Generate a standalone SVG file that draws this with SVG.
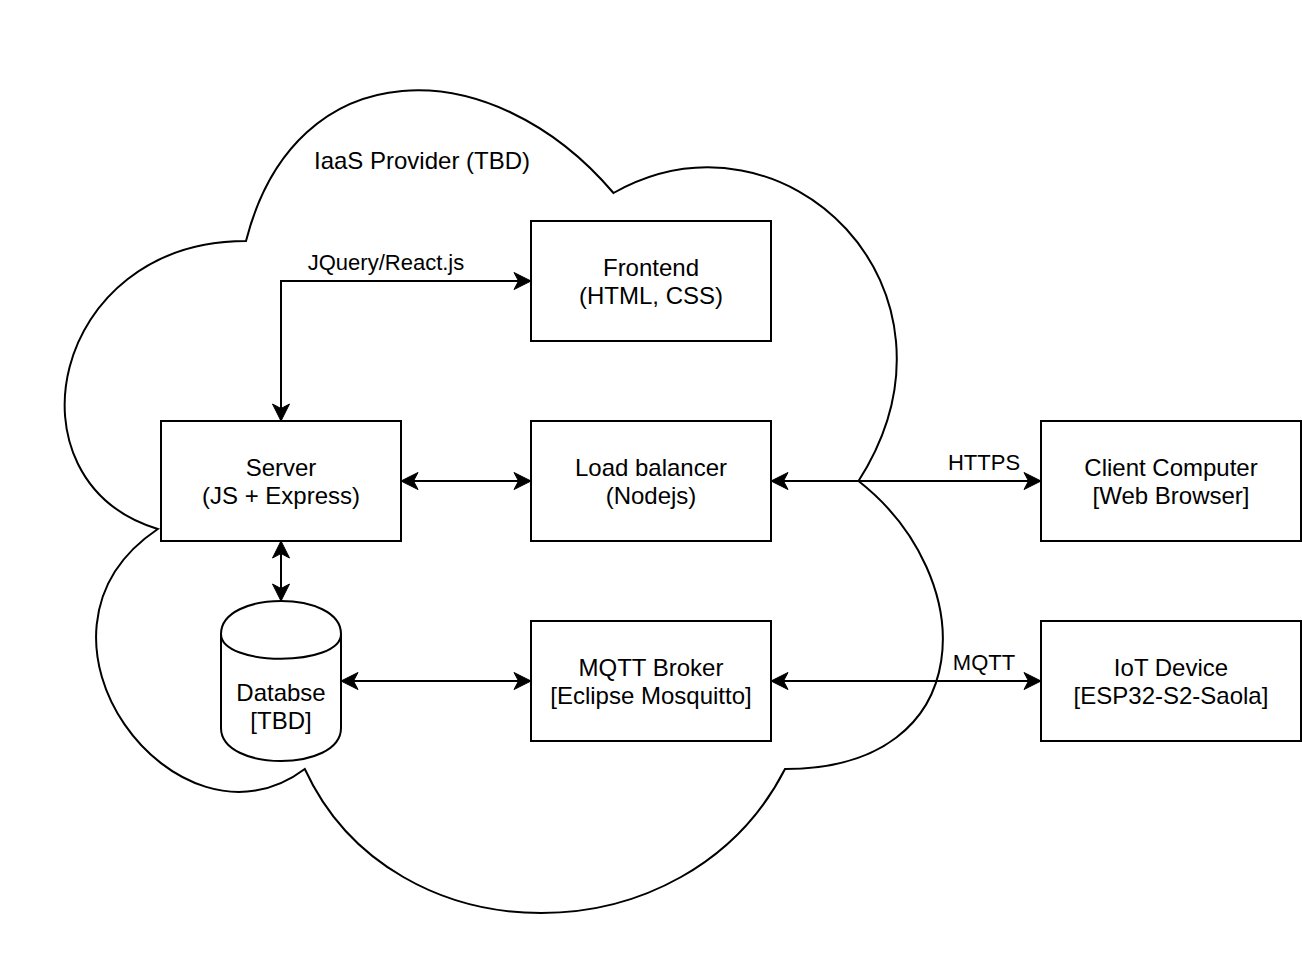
<svg xmlns="http://www.w3.org/2000/svg" width="1302" height="962" viewBox="0 0 1302 962">
  <style>
    .box { fill: #ffffff; stroke: #000000; stroke-width: 2; }
    .cloud { fill: #ffffff; stroke: #000000; stroke-width: 2; }
    .t { font-family: "Liberation Sans", Arial, Helvetica, sans-serif; font-size: 24px; fill: #000000; text-anchor: middle; }
    .lbl { font-family: "Liberation Sans", Arial, Helvetica, sans-serif; font-size: 22px; fill: #000000; text-anchor: middle; }
    .edge { fill: none; stroke: #000000; stroke-width: 2; }
  </style>
  <defs>
    <marker id="arrow" viewBox="-18 -10 20 20" refX="0" refY="0" markerWidth="20" markerHeight="20" markerUnits="userSpaceOnUse" orient="auto-start-reverse">
      <path d="M0,0 L-17,-8.5 L-12.5,0 L-17,8.5 Z" fill="#000000" stroke="#000000" stroke-width="1"/>
    </marker>
  </defs>
  <rect width="1302" height="962" fill="#ffffff"/>

  <g transform="translate(1,1)">
  <g id="cloud">
    <path class="cloud" d="M245,240 C49,240 0,480 156.8,528 C0,633.6 176.4,864 303.8,768 C392,960 686,960 784,768 C980,768 980,576 857.5,480 C980,288 784,96 612.5,192 C490,48 294,48 245,240 Z"/>
    <text class="t" x="421" y="168">IaaS Provider (TBD)</text>
  </g>

  <g id="connectors">
    <path class="edge" d="M280,420 L280,280 L530,280" marker-start="url(#arrow)" marker-end="url(#arrow)"/>
    <text class="lbl" x="385" y="269">JQuery/React.js</text>
    <path class="edge" d="M400,480 L530,480" marker-start="url(#arrow)" marker-end="url(#arrow)"/>
    <path class="edge" d="M770,480 L1040,480" marker-start="url(#arrow)" marker-end="url(#arrow)"/>
    <text class="lbl" x="983" y="469">HTTPS</text>
    <path class="edge" d="M280,540 L280,600" marker-start="url(#arrow)" marker-end="url(#arrow)"/>
    <path class="edge" d="M340,680 L530,680" marker-start="url(#arrow)" marker-end="url(#arrow)"/>
    <path class="edge" d="M770,680 L1040,680" marker-start="url(#arrow)" marker-end="url(#arrow)"/>
    <text class="lbl" x="983" y="669">MQTT</text>
  </g>

  <g id="frontend">
    <rect class="box" x="530" y="220" width="240" height="120"/>
    <text class="t" x="650" y="275">Frontend</text>
    <text class="t" x="650" y="303">(HTML, CSS)</text>
  </g>

  <g id="server">
    <rect class="box" x="160" y="420" width="240" height="120"/>
    <text class="t" x="280" y="475">Server</text>
    <text class="t" x="280" y="503">(JS + Express)</text>
  </g>

  <g id="loadbalancer">
    <rect class="box" x="530" y="420" width="240" height="120"/>
    <text class="t" x="650" y="475">Load balancer</text>
    <text class="t" x="650" y="503">(Nodejs)</text>
  </g>

  <g id="client">
    <rect class="box" x="1040" y="420" width="260" height="120"/>
    <text class="t" x="1170" y="475">Client Computer</text>
    <text class="t" x="1170" y="503">[Web Browser]</text>
  </g>

  <g id="mqtt">
    <rect class="box" x="530" y="620" width="240" height="120"/>
    <text class="t" x="650" y="675">MQTT Broker</text>
    <text class="t" x="650" y="703">[Eclipse Mosquitto]</text>
  </g>

  <g id="iot">
    <rect class="box" x="1040" y="620" width="260" height="120"/>
    <text class="t" x="1170" y="675">IoT Device</text>
    <text class="t" x="1170" y="703">[ESP32-S2-Saola]</text>
  </g>

  <g id="database">
    <path class="box" d="M220,633 C220,589 340,589 340,633 L340,727 C340,771 220,771 220,727 Z"/>
    <path class="edge" d="M220,633 C220,666 340,666 340,633"/>
    <text class="t" x="280" y="700">Databse</text>
    <text class="t" x="280" y="728">[TBD]</text>
  </g>
  </g>
</svg>
